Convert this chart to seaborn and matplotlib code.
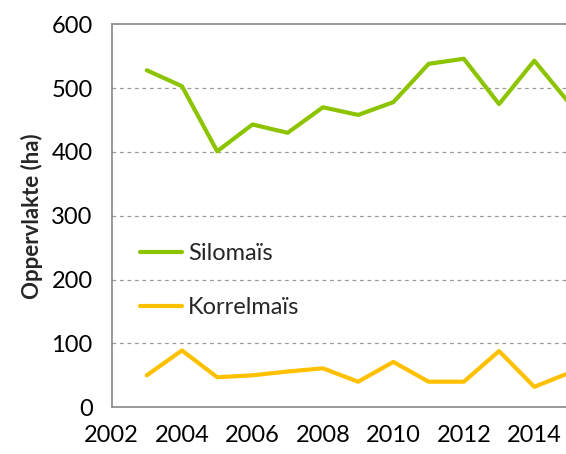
import numpy as np
import pandas as pd
import matplotlib
matplotlib.use("Agg")
import matplotlib.pyplot as plt
import seaborn as sns

# Data
YEARS = [2003, 2004, 2005, 2006, 2007, 2008, 2009, 2010, 2011, 2012, 2013, 2014, 2015]
SILOMAIS = [528, 503, 401, 443, 430, 470, 458, 478, 538, 546, 475, 543, 476]
KORRELMAIS = [50, 89, 47, 50, 56, 61, 40, 71, 40, 40, 88, 32, 54]
SERIES = ['Silomaïs', 'Korrelmaïs']
COLORS = ['#8DC400', '#FFC000']
Y_TICKS = [0, 100, 200, 300, 400, 500, 600]
X_TICKS = [2002, 2004, 2006, 2008, 2010, 2012, 2014]

df = pd.DataFrame({
    'jaar': YEARS * 2,
    'oppervlakte': SILOMAIS + KORRELMAIS,
    'gewas': [SERIES[0]] * len(YEARS) + [SERIES[1]] * len(YEARS),
})

sns.set_style("white")
plt.rcParams['font.family'] = ['Lato', 'DejaVu Sans']

fig = plt.figure(figsize=(5.66, 4.54), dpi=100)
ax = fig.add_axes([0.197, 0.103, 0.803, 0.8435])

sns.lineplot(data=df, x='jaar', y='oppervlakte', hue='gewas', hue_order=SERIES,
             palette=COLORS, linewidth=3, ax=ax)

ax.set_xlim(2002, 2014.9)
ax.set_ylim(0, 600)
ax.set_xticks(X_TICKS)
ax.set_yticks(Y_TICKS)
ax.tick_params(axis='both', labelsize=17, length=5.5, width=1, color='#888888',
               direction='out', labelcolor='black')
ax.tick_params(axis='y', pad=8)
ax.tick_params(axis='x', pad=7)

for y in Y_TICKS[1:-1]:
    ax.axhline(y, color='#999999', linestyle=(0, (3, 3)), linewidth=0.9, zorder=0)

for side in ['left', 'bottom', 'top']:
    ax.spines[side].set_color('#888888')
    ax.spines[side].set_linewidth(1.2)
ax.spines['right'].set_visible(False)

ax.set_xlabel('')
ax.set_ylabel('Oppervlakte (ha)', fontsize=16, fontweight='bold', labelpad=6)

ax.legend(loc='center left', bbox_to_anchor=(0.015, 0.331), frameon=False,
          fontsize=17, handlelength=1.8, handletextpad=0.25, labelspacing=1.4)

fig.savefig('out.png', dpi=100)
